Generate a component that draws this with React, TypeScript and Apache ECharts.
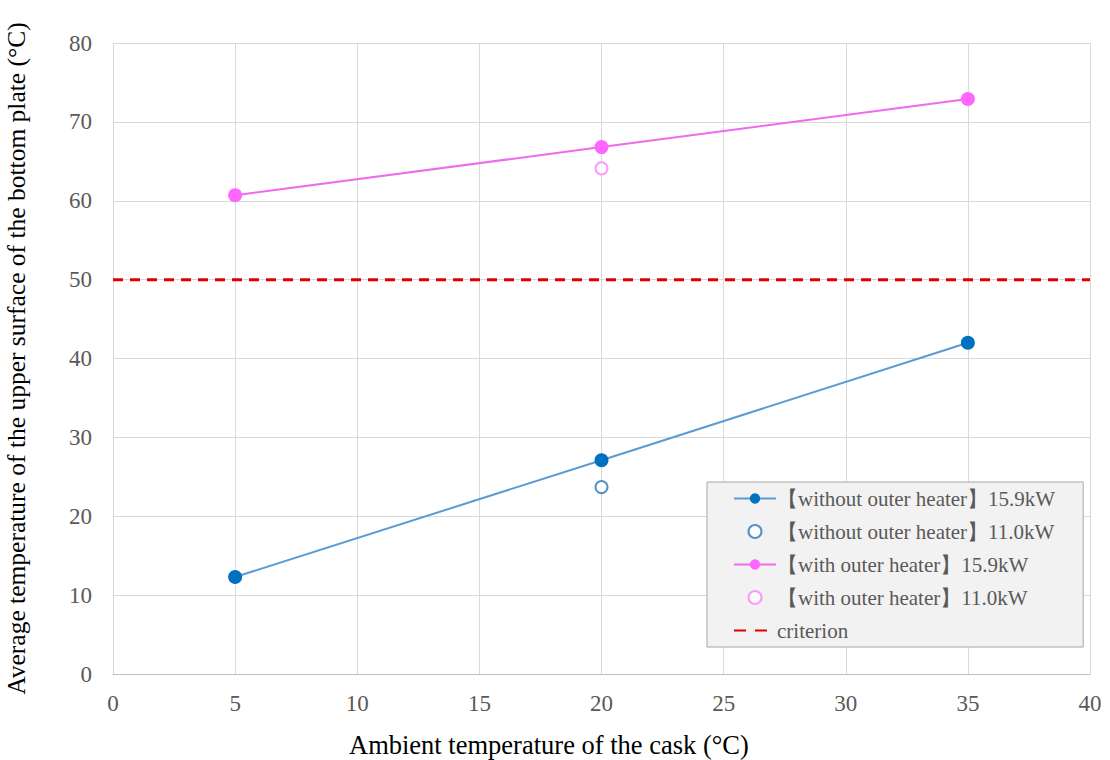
import React, { useEffect, useRef } from "react";
import * as echarts from "echarts";

const xTemps = [5, 20, 35];
const withoutHeater159 = [12.3, 27.1, 42.0];
const withoutHeater110X = [20];
const withoutHeater110 = [23.7];
const withHeater159 = [60.7, 66.8, 72.9];
const withHeater110X = [20];
const withHeater110 = [64.1];
const criterionX = [0, 40];
const criterionY = [50, 50];

const seriesNames = [
  "【without outer heater】15.9kW",
  "【without outer heater】11.0kW",
  "【with outer heater】15.9kW",
  "【with outer heater】11.0kW",
  "criterion",
];

const pair = (xs: number[], ys: number[]) => xs.map((x, i) => [x, ys[i]]);

export default function App() {
  const ref = useRef<HTMLDivElement>(null);
  useEffect(() => {
    if (!ref.current) return;
    const chart = echarts.init(ref.current, undefined, { renderer: "svg" });
    const font = "Liberation Serif";
    chart.setOption({
      animation: false,
      textStyle: { fontFamily: font },
      grid: { left: 113, right: 20, top: 43, bottom: 86, outerBoundsMode: "none", containLabel: false },
      xAxis: {
        type: "value",
        min: 0,
        max: 40,
        interval: 5,
        axisLine: { show: true, lineStyle: { color: "#bfbfbf", width: 1 } },
        axisTick: { show: false },
        axisLabel: { color: "#595959", fontSize: 23, fontFamily: font, margin: 18 },
        splitLine: { show: true, lineStyle: { color: "#d9d9d9", width: 1 } },
      },
      yAxis: {
        type: "value",
        min: 0,
        max: 80,
        interval: 10,
        axisLine: { show: false },
        axisTick: { show: false },
        axisLabel: { color: "#595959", fontSize: 23, fontFamily: font, margin: 21 },
        splitLine: { show: true, lineStyle: { color: "#d9d9d9", width: 1 } },
        name: "Average temperature of the upper surface of the bottom plate (°C)",
        nameLocation: "middle",
        nameGap: 84,
        nameTextStyle: { color: "#000", fontSize: 25.5, fontFamily: font },
      },
      graphic: [
        {
          type: "text",
          left: 349,
          top: 731,
          style: {
            text: "Ambient temperature of the cask (°C)",
            fill: "#000",
            font: `26.5px ${font}`,
          },
        },
      ],
      legend: {
        orient: "vertical",
        left: 707,
        top: 482,
        padding: [6, 28, 6, 26],
        backgroundColor: "#f2f2f2",
        borderColor: "#a6a6a6",
        borderWidth: 1,
        itemWidth: 42,
        itemHeight: 13,
        itemGap: 12,
        textStyle: { color: "#595959", fontSize: 21, fontFamily: font, padding: [0, 0, 0, -4] },
        data: [
          { name: seriesNames[0] },
          { name: seriesNames[1], icon: "emptyCircle" },
          { name: seriesNames[2] },
          { name: seriesNames[3], icon: "emptyCircle" },
          { name: seriesNames[4], itemStyle: { opacity: 0 }, lineStyle: { type: [12, 9] } },
        ],
      },
      series: [
        {
          name: seriesNames[0],
          type: "line",
          data: pair(xTemps, withoutHeater159),
          symbol: "circle",
          symbolSize: 14,
          itemStyle: { color: "#0070c0" },
          lineStyle: { color: "#5b9bd5", width: 2 },
          z: 3,
        },
        {
          name: seriesNames[1],
          type: "scatter",
          data: pair(withoutHeater110X, withoutHeater110),
          symbol: "emptyCircle",
          symbolSize: 12,
          itemStyle: { color: "#2e75b6", borderWidth: 1.2 },
          z: 3,
        },
        {
          name: seriesNames[2],
          type: "line",
          data: pair(xTemps, withHeater159),
          symbol: "circle",
          symbolSize: 14,
          itemStyle: { color: "#ff66ff" },
          lineStyle: { color: "#ee6aee", width: 2 },
          z: 3,
        },
        {
          name: seriesNames[3],
          type: "scatter",
          data: pair(withHeater110X, withHeater110),
          symbol: "emptyCircle",
          symbolSize: 12,
          itemStyle: { color: "#ff80ff", borderWidth: 1.2 },
          z: 3,
        },
        {
          name: seriesNames[4],
          type: "line",
          data: pair(criterionX, criterionY),
          symbol: "none",
          itemStyle: { color: "#e00000" },
          lineStyle: { color: "#e00000", width: 3, type: [10, 7] },
          z: 2,
        },
      ],
    });
    return () => chart.dispose();
  }, []);
  return <div ref={ref} style={{ width: 1110, height: 760, position: "absolute", left: 0, top: 0 }} />;
}
